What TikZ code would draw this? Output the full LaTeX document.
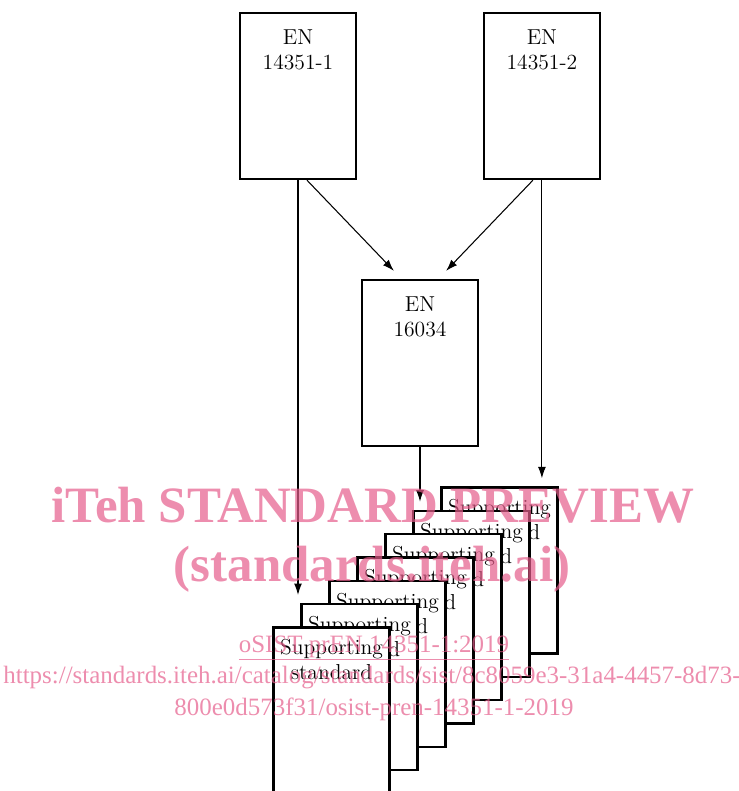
\documentclass[tikz,border=0pt]{standalone}
\usepackage{fontspec}
\newfontfamily\wmfont{Liberation Serif}
\usepackage{tikz}
\usetikzlibrary{
    arrows.meta,
    positioning
}
\definecolor{wmpink}{RGB}{229,93,139}
\tikzset{
    docbox/.style={
        rectangle,
        draw=black,
        line width=1.4pt,
        fill=white,
        minimum width=2.32cm,
        minimum height=3.32cm,
        inner sep=0pt
    },
    boxtext/.style={
        anchor=north,
        align=center,
        inner sep=0pt,
        font=\fontsize{12.3}{14.2}\selectfont
    },
    arrow/.style={
        -{Latex[length=6.5pt, width=4.5pt]},
        semithick,
        shorten >=0.16cm
    },
    watermark/.style={
        anchor=base,
        text=wmpink,
        text opacity=0.7,
        inner sep=0pt
    }
}

\begin{document}
\begin{tikzpicture}[x=0.02cm, y=-0.02cm]
\useasboundingbox (0,0) rectangle (739,791);
\clip (0,0) rectangle (739,791);

% standards on top
\node[docbox] (en1) at (298,96) {};
\node[docbox, right=2.51cm of en1] (en2) {};
\node[docbox] (en3) at (420,363) {};
\node[boxtext, yshift=-0.36cm] (en1text) at (en1.north) {EN\\14351-1};
\node[boxtext, yshift=-0.36cm] (en2text) at (en2.north) {EN\\14351-2};
\node[boxtext, yshift=-0.36cm] (en3text) at (en3.north) {EN\\16034};

% stack of supporting standards, back to front
\foreach \k in {7,6,...,1} {
    \node[docbox] (doc\k) at ({331.5+28*(\k-1)}, {710.5-23.33*(\k-1)}) {};
    \node[boxtext, yshift=-0.26cm] (doctext\k) at (doc\k.north) {Supporting\\standard};
}

\draw[arrow] (en1.south) -- (en1.south |- doc2.north);
\draw[arrow, shorten >=0.22cm] ([xshift=0.18cm]en1.south) -- ([xshift=-0.37cm]en3.north);
\draw[arrow, shorten >=0.22cm] ([xshift=-0.18cm]en2.south) -- ([xshift=0.37cm]en3.north);
\draw[arrow] (en2.south) -- (en2.south |- doc7.north);
\draw[arrow] (en3.south) -- (en3.south |- doc6.north);

% watermark
\node[watermark, font=\wmfont\bfseries\fontsize{29}{34}\selectfont] (wmtitle) at (373,522) {iTeh STANDARD PREVIEW};
\node[watermark, font=\wmfont\bfseries\fontsize{29}{34}\selectfont] (wmsite) at (372,581) {(standards.iteh.ai)};
\node[watermark, font=\wmfont\fontsize{14.2}{17}\selectfont] (wmcode) at (374,652) {\underline{oSIST prEN 14351-1:2019}};
\node[watermark, font=\wmfont\fontsize{14.2}{17}\selectfont] (wmurl) at (372,683) {https://standards.iteh.ai/catalog/standards/sist/8c8059e3-31a4-4457-8d73-};
\node[watermark, font=\wmfont\fontsize{14.2}{17}\selectfont] (wmurlend) at (374,715) {800e0d573f31/osist-pren-14351-1-2019};
\end{tikzpicture}
\end{document}
